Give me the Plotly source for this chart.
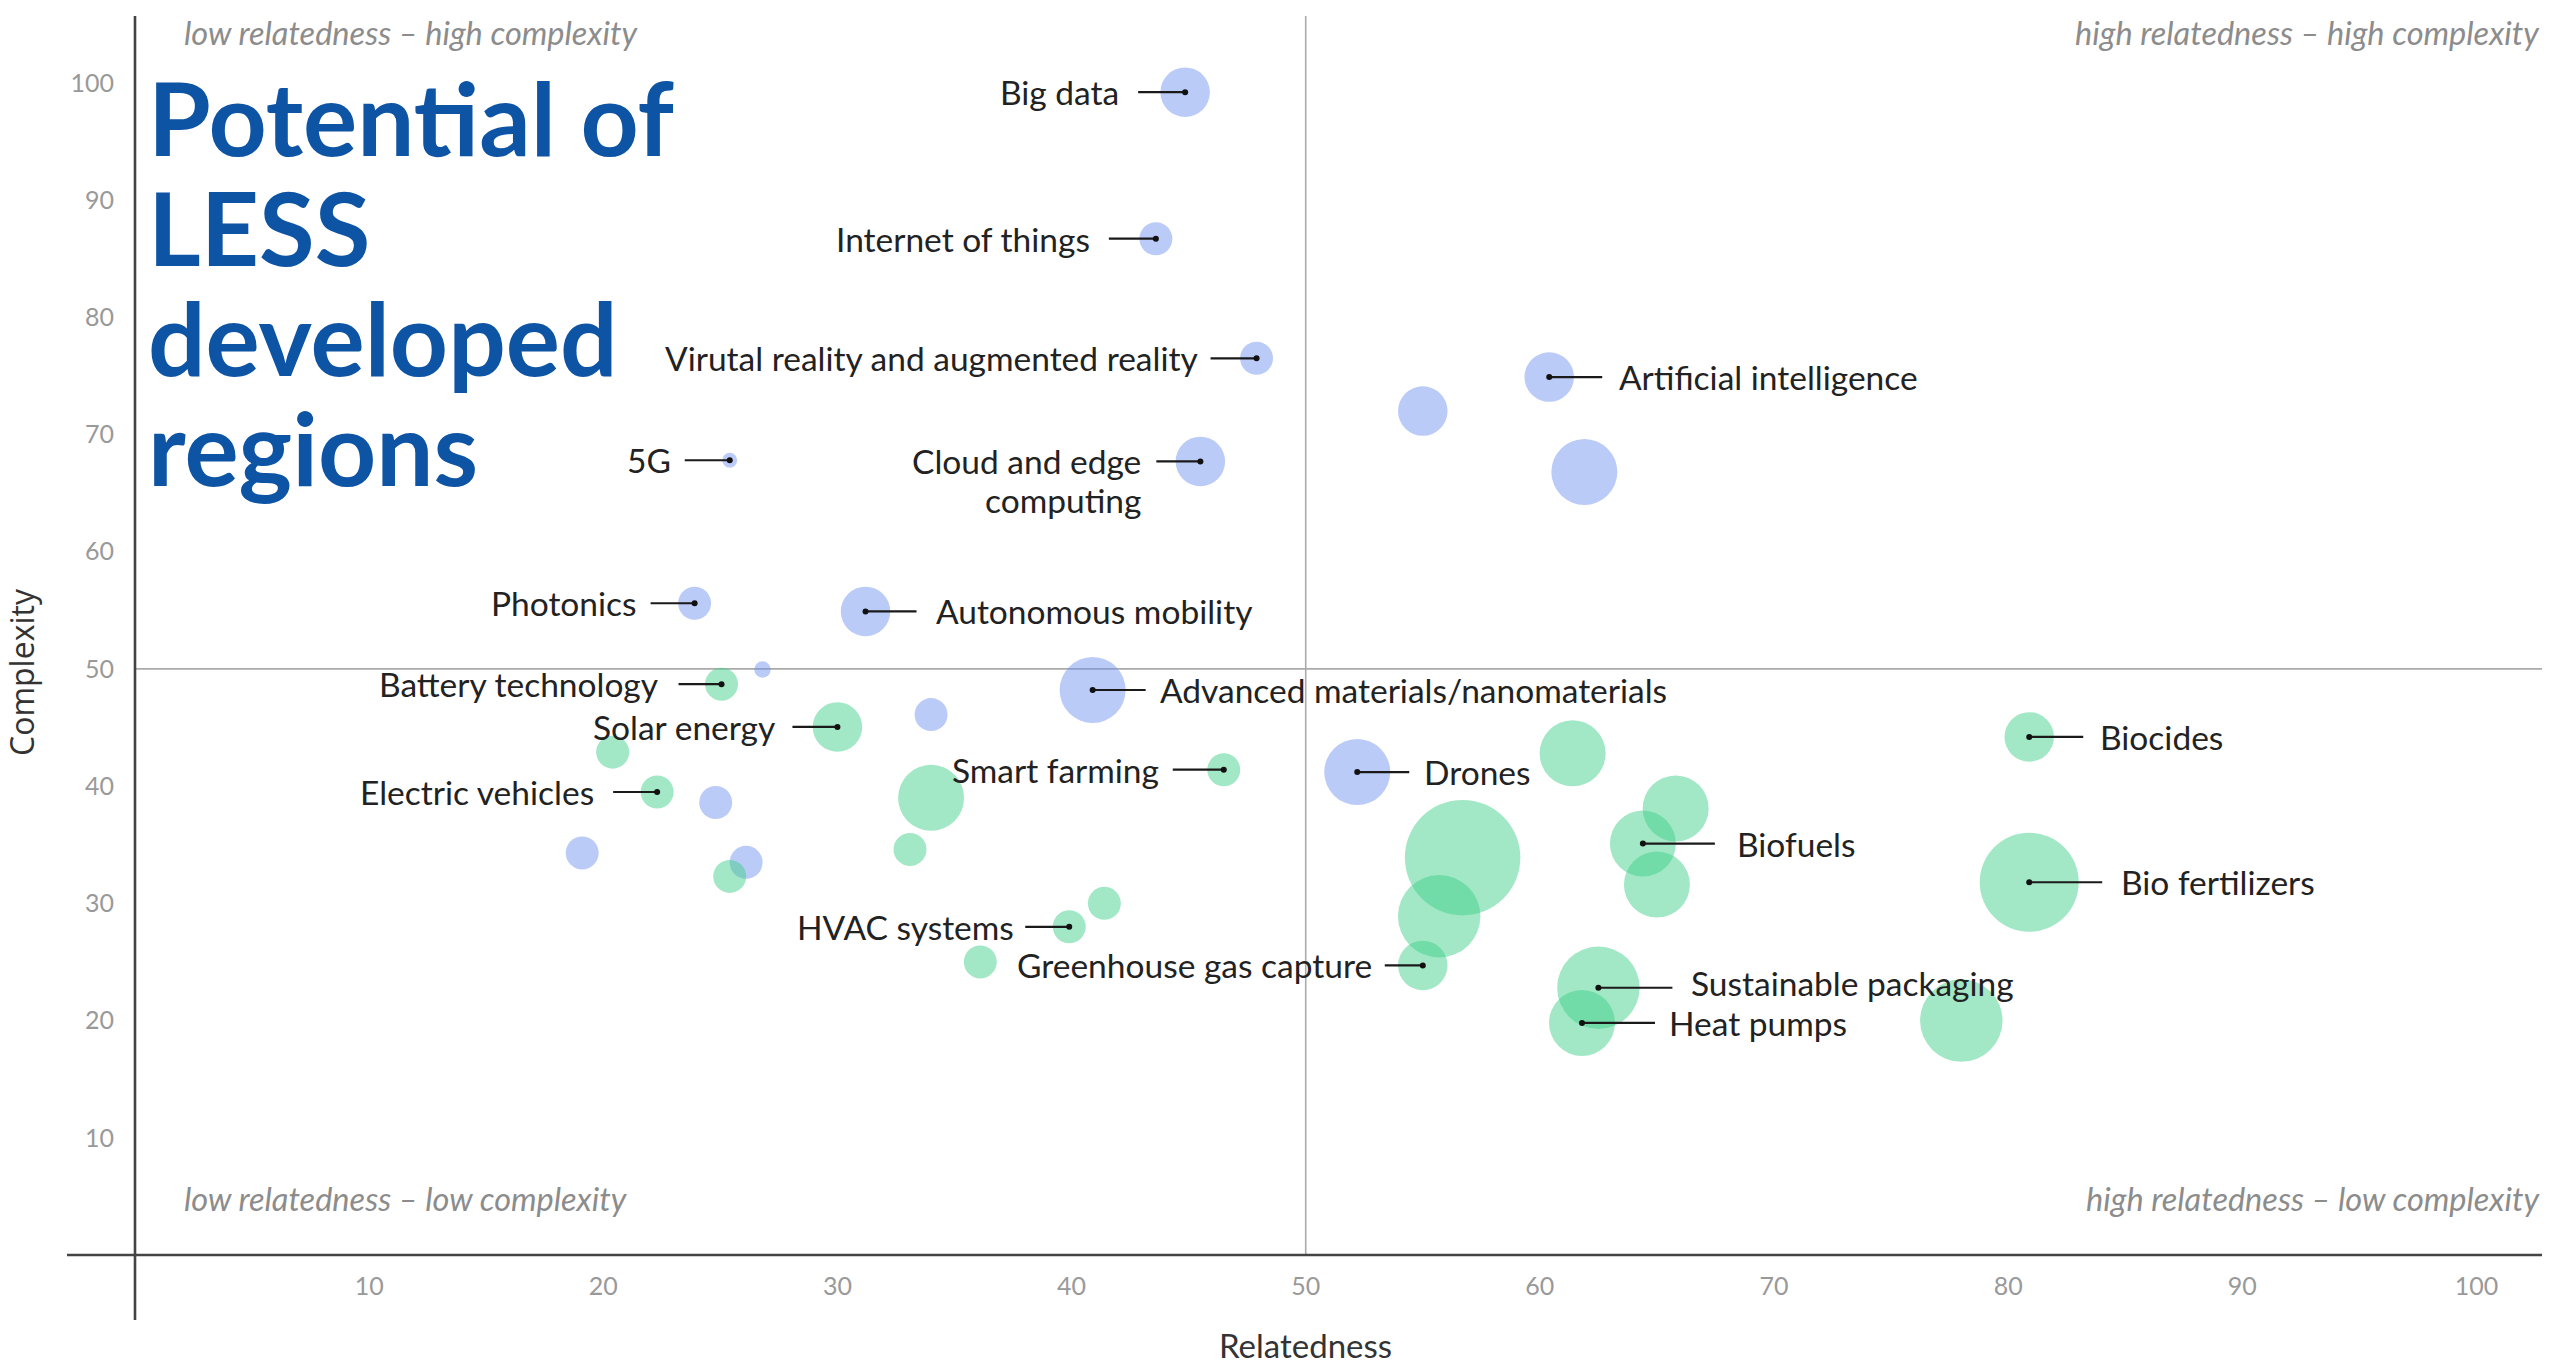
import plotly.graph_objects as go

# ---------------- data ----------------
digital_names = ["Big data", "Internet of things", "Virutal reality and augmented reality",
                 "Artificial intelligence", "", "", "5G", "Cloud and edge<br>computing",
                 "Photonics", "Autonomous mobility", "", "Advanced materials/nanomaterials",
                 "", "Drones", "", "", ""]
digital_x = [44.85, 43.6, 47.9, 60.4, 55.0, 61.9, 25.4, 45.5, 23.9, 31.2, 26.8, 40.9,
             34.0, 52.2, 24.8, 19.1, 26.1]
digital_y = [99.2, 86.7, 76.5, 74.9, 72.0, 66.8, 67.8, 67.7, 55.6, 54.9, 49.95, 48.2,
             46.1, 41.2, 38.6, 34.3, 33.5]
digital_w = [3, 2, 2, 3, 3, 4, 0.9, 3, 2, 3, 1, 4, 2, 4, 2, 2, 2]

green_names = ["Battery technology", "Solar energy", "", "Electric vehicles", "",
               "Smart farming", "", "", "", "HVAC systems", "", "Greenhouse gas capture",
               "", "", "", "", "Biofuels", "", "Sustainable packaging", "Heat pumps", "",
               "Biocides", "Bio fertilizers"]
green_x = [25.05, 30.0, 20.4, 22.3, 34.0, 46.5, 33.1, 25.4, 41.4, 39.9, 36.1, 55.0,
           61.4, 56.7, 55.7, 65.8, 64.4, 65.0, 62.5, 61.8, 78.0, 80.9, 80.9]
green_y = [48.7, 45.05, 42.9, 39.5, 39.0, 41.4, 34.6, 32.3, 30.0, 28.0, 25.0, 24.7,
           42.8, 33.9, 28.9, 38.1, 35.1, 31.6, 22.8, 19.8, 20.0, 44.2, 31.8]
green_w = [2, 3, 2, 2, 4, 2, 2, 2, 2, 2, 2, 3, 4, 7, 5, 4, 4, 4, 5, 4, 5, 3, 6]

tick_values = [10, 20, 30, 40, 50, 60, 70, 80, 90, 100]
quadrant_split = 50

# ---------------- styling ----------------
# label side, leader length (px), gap between leader and text (px), vertical nudge (px)
label_style = {
    "Big data": ("left", 47, 18, 0),
    "Internet of things": ("left", 47, 18, 0),
    "Virutal reality and augmented reality": ("left", 46, 12, 0),
    "5G": ("left", 45, 13, 0),
    "Cloud and edge<br>computing": ("left", 44, 14, 0),
    "Photonics": ("left", 44, 13, 0),
    "Battery technology": ("left", 43, 20, 0),
    "Solar energy": ("left", 45, 16, 0),
    "Electric vehicles": ("left", 44, 18, 0),
    "Smart farming": ("left", 51, 13, 0),
    "HVAC systems": ("left", 44, 10, 0),
    "Greenhouse gas capture": ("left", 38, 12, 0),
    "Artificial intelligence": ("right", 53, 16, 0),
    "Autonomous mobility": ("right", 51, 18, 0),
    "Advanced materials/nanomaterials": ("right", 53, 13, 0),
    "Drones": ("right", 52, 14, 0),
    "Biocides": ("right", 54, 16, 0),
    "Biofuels": ("right", 72, 21, 0),
    "Bio fertilizers": ("right", 73, 18, 0),
    "Sustainable packaging": ("right", 74, 18, 5),
    "Heat pumps": ("right", 73, 13, 0),
}

W, H = 2552, 1368
ML, MR, MT, MB = 135, 10, 16, 113
X_RANGE = [0, 102.8]
Y_RANGE = [0, 105.7]
PW = W - ML - MR
PH = H - MT - MB
PX_X = PW / (X_RANGE[1] - X_RANGE[0])
SIZE_PX = 16.5          # marker diameter per unit of weight
BLUE = "rgba(112,146,240,0.68)"
GREEN = "rgba(66,208,138,0.70)"
FONT = "Lato"
LABEL_SIZE = 33.5
LINE_PITCH = 39


def py_paper(py):
    return (H - MB - py) / PH


def px_paper(px):
    return (px - ML) / PW


fig = go.Figure()

fig.add_trace(go.Scatter(
    x=digital_x, y=digital_y, mode="markers", name="Digital",
    marker=dict(size=[w * SIZE_PX for w in digital_w], sizemode="diameter",
                color=BLUE, line=dict(width=0)),
    text=digital_names, hoverinfo="text+x+y", showlegend=False))
fig.add_trace(go.Scatter(
    x=green_x, y=green_y, mode="markers", name="Green",
    marker=dict(size=[w * SIZE_PX for w in green_w], sizemode="diameter",
                color=GREEN, line=dict(width=0)),
    text=green_names, hoverinfo="text+x+y", showlegend=False))

# leader lines, centre dots and labels
lx, ly, dx, dy = [], [], [], []
annotations = []
for names, xs, ys in ((digital_names, digital_x, digital_y), (green_names, green_x, green_y)):
    for n, cx, cy in zip(names, xs, ys):
        if not n:
            continue
        side, lead, gap, nudge = label_style[n]
        sgn = -1 if side == "left" else 1
        lx += [cx, cx + sgn * lead / PX_X, None]
        ly += [cy, cy, None]
        dx.append(cx)
        dy.append(cy)
        for k, line in enumerate(n.split("<br>")):
            annotations.append(dict(
                x=cx, y=cy, xref="x", yref="y", text=line, showarrow=False,
                xanchor="right" if side == "left" else "left", yanchor="middle",
                xshift=sgn * (lead + gap), yshift=nudge - k * LINE_PITCH, borderpad=0,
                font=dict(family=FONT, size=LABEL_SIZE, color="#222222")))

fig.add_trace(go.Scatter(x=lx, y=ly, mode="lines", line=dict(color="#1a1a1a", width=2.2),
                         hoverinfo="skip", showlegend=False))
fig.add_trace(go.Scatter(x=dx, y=dy, mode="markers", marker=dict(color="#111111", size=6),
                         hoverinfo="skip", showlegend=False))

# title
title_lines = ["Potential of", "LESS", "developed", "regions"]
for i, t in enumerate(title_lines):
    annotations.append(dict(
        x=px_paper(146), y=py_paper(117 + 110 * i), xref="paper", yref="paper",
        text=f"<b>{t}</b>", showarrow=False, xanchor="left", yanchor="middle",
        font=dict(family=FONT, size=101.5, color="#0e54a5")))

# quadrant descriptions
corner_font = dict(family=FONT, size=32.5, color="#8c8c8c", style="italic")
for txt, xp, xa, ypx in [
    ("low relatedness – high complexity", px_paper(182), "left", 32),
    ("high relatedness – high complexity", 1.0, "right", 32),
    ("low relatedness – low complexity", px_paper(182), "left", 1198),
    ("high relatedness – low complexity", 1.0, "right", 1198),
]:
    annotations.append(dict(x=xp, y=py_paper(ypx), xref="paper", yref="paper", text=txt,
                            showarrow=False, xanchor=xa, yanchor="middle", font=corner_font))

# axis titles
annotations.append(dict(x=quadrant_split, y=py_paper(1345), xref="x", yref="paper",
                        text="Relatedness", showarrow=False, xanchor="center", yanchor="middle",
                        font=dict(family=FONT, size=33, color="#333333")))
annotations.append(dict(x=px_paper(21), y=py_paper(672), xref="paper", yref="paper",
                        text="Complexity", showarrow=False, textangle=-90,
                        xanchor="center", yanchor="middle",
                        font=dict(family="Open Sans", size=32, color="#333333")))

shapes = [
    # quadrant split lines
    dict(type="line", xref="x", yref="paper", x0=quadrant_split, x1=quadrant_split, y0=0, y1=1,
         line=dict(color="#aaaaaa", width=1.6), layer="below"),
    dict(type="line", xref="paper", yref="y", x0=0, x1=1, y0=quadrant_split, y1=quadrant_split,
         line=dict(color="#aaaaaa", width=1.6), layer="below"),
    # main axis lines (crossing at origin)
    dict(type="line", xref="paper", yref="paper", x0=0, x1=0, y0=py_paper(1320), y1=1,
         line=dict(color="#444444", width=2.6)),
    dict(type="line", xref="paper", yref="paper", x0=px_paper(67), x1=1, y0=0, y1=0,
         line=dict(color="#444444", width=2.6)),
]

fig.update_layout(
    width=W, height=H, margin=dict(l=ML, r=MR, t=MT, b=MB),
    paper_bgcolor="white", plot_bgcolor="white",
    showlegend=False, annotations=annotations, shapes=shapes,
    xaxis=dict(range=X_RANGE, showgrid=False, zeroline=False, showline=False,
               tickvals=tick_values, ticks="", ticklabelstandoff=14,
               tickfont=dict(family=FONT, size=25, color="#999999")),
    yaxis=dict(range=Y_RANGE, showgrid=False, zeroline=False, showline=False,
               tickvals=tick_values, ticks="", ticklabelstandoff=20,
               tickfont=dict(family=FONT, size=25, color="#999999")),
)

fig.write_html("out.html")
